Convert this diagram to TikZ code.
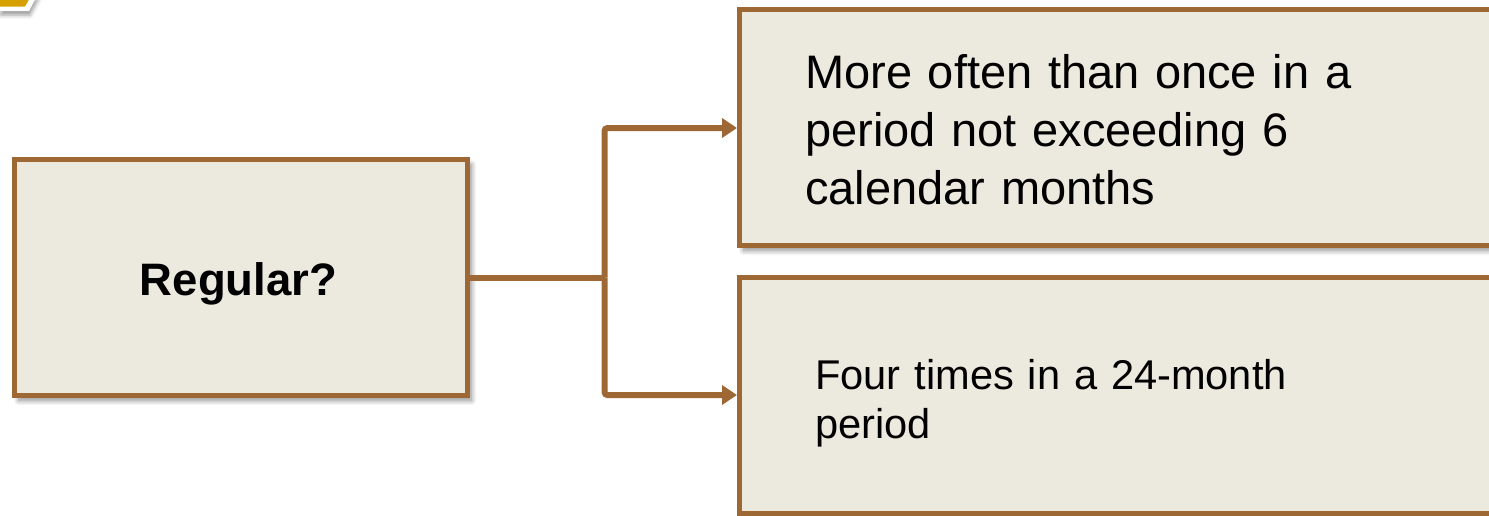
\documentclass[tikz,border=0pt]{standalone}
\usepackage{fontspec}
\setmainfont{Liberation Sans}
\usetikzlibrary{arrows.meta,shadows.blur}

\definecolor{boxfill}{RGB}{236,233,223}
\definecolor{boxline}{RGB}{158,104,52}
\definecolor{tabgold}{RGB}{214,160,0}

\tikzset{
  panel/.style={draw=boxline, line width=5pt, fill=boxfill, inner sep=0pt,
    blur shadow={shadow xshift=4pt, shadow yshift=-5pt,
      shadow blur radius=5pt, shadow blur steps=12, shadow opacity=45}},
  link/.style={draw=boxline, line width=6pt, rounded corners=3pt},
  linkarrow/.style={link, -{Triangle[length=15pt,width=19pt]}},
  bigtext/.style={inner sep=0pt, text width=700pt, align=left,
    anchor=base west, font=\fontsize{47}{58}\selectfont},
  midtext/.style={inner sep=0pt, text width=600pt, align=left,
    anchor=base west, font=\fontsize{41.6}{49}\selectfont},
  headtext/.style={inner sep=0pt, anchor=base,
    font=\fontsize{45.5}{54}\selectfont\bfseries}
}

\begin{document}
\begin{tikzpicture}[x=1pt, y=-1pt]
  \useasboundingbox (0,0) rectangle (1489,515);
  \clip (0,0) rectangle (1489,515);

  % corner tab in the top left
  \fill[white, blur shadow={shadow xshift=1pt, shadow yshift=-4pt,
      shadow blur radius=4pt, shadow opacity=40}]
    (0,-4) -- (37,-4) -- (29,11) -- (0,11) -- cycle;
  \fill[tabgold] (0,-4) -- (31,-4) -- (25,6.5) -- (0,6.5) -- cycle;

  % boxes
  \node[panel, minimum width=453pt, minimum height=236pt] (question) at (241,277.5) {};
  \node[panel, minimum width=820pt, minimum height=236pt] (often) at (1149.5,127.5) {};
  \node[panel, minimum width=820pt, minimum height=236pt] (four) at (1149.5,395.5) {};

  % texts
  \node[headtext] (qtext) at (238.5,295) {Regular?};
  \node[bigtext] (otext) at (805,88)
    {More often than once in a\\period not exceeding 6\\calendar months};
  \node[midtext] (ftext) at (815,389)
    {Four times in a 24-month\\period};

  % connectors
  \coordinate (split) at (604.5,277.5);
  \draw[link] (question.east |- split) -- (split);
  \draw[linkarrow] (split) |- (often.west |- 0,128);
  \draw[linkarrow] (split) |- (four.west |- 0,395);
\end{tikzpicture}
\end{document}
